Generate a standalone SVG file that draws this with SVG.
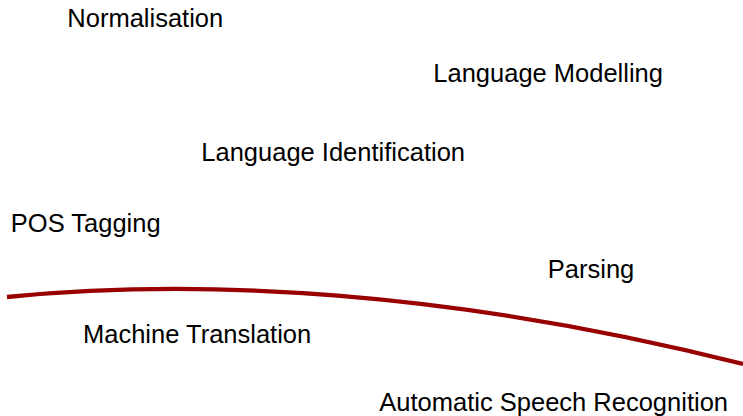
<svg xmlns="http://www.w3.org/2000/svg" width="743" height="416" viewBox="0 0 743 416">
<style>
.lbl{font-family:"Liberation Sans",Arial,sans-serif;font-size:25.5px;fill:#000}
.curve{fill:none;stroke:#990000;stroke-width:4.3}
</style>
<rect width="743" height="416" fill="#fff"/>
<g id="connectors">
<path class="curve" d="M7,297 C200,278 450,290 743,364"/>
</g>
<g id="normalisation"><text class="lbl" x="67.3" y="27.3">Normalisation</text></g>
<g id="language-modelling"><text class="lbl" x="433.3" y="81.7">Language Modelling</text></g>
<g id="language-identification"><text class="lbl" x="201.3" y="161">Language Identification</text></g>
<g id="pos-tagging"><text class="lbl" x="10.8" y="231.7">POS Tagging</text></g>
<g id="parsing"><text class="lbl" x="547.8" y="277.7">Parsing</text></g>
<g id="machine-translation"><text class="lbl" x="83" y="343.3">Machine Translation</text></g>
<g id="asr"><text class="lbl" x="379.3" y="410.7">Automatic Speech Recognition</text></g>
</svg>
